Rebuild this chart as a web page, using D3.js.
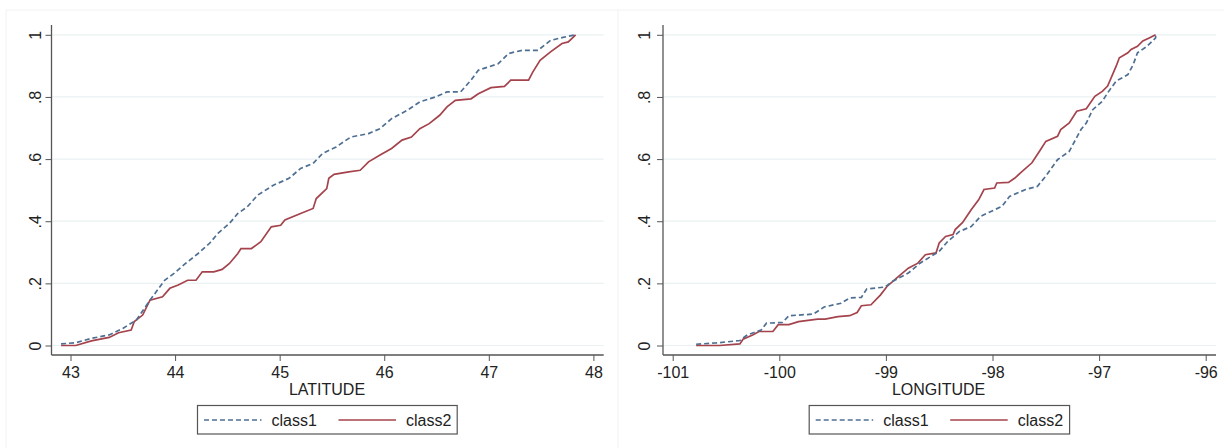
<!DOCTYPE html>
<html>
<head>
<meta charset="utf-8">
<script src="https://cdn.jsdelivr.net/npm/d3@7"></script>
<style>
  body { margin: 0; background: #fff; }
  svg { display: block; font-family: "Liberation Sans", Arial, sans-serif; }
</style>
</head>
<body>
<svg id="chart" width="1224" height="448"></svg>
<script>
const latClass1X = [42.91, 43.05, 43.2, 43.37, 43.5, 43.63, 43.75, 43.9, 43.99, 44.1, 44.22, 44.33, 44.41, 44.52, 44.6, 44.69, 44.79, 44.94, 45.09, 45.2, 45.32, 45.41, 45.54, 45.68, 45.85, 45.96, 46.07, 46.22, 46.34, 46.49, 46.6, 46.73, 46.83, 46.9, 47.09, 47.19, 47.32, 47.47, 47.59, 47.7, 47.83];
const latClass1Y = [0.005, 0.009, 0.023, 0.034, 0.055, 0.082, 0.141, 0.21, 0.232, 0.264, 0.296, 0.329, 0.361, 0.393, 0.425, 0.446, 0.484, 0.516, 0.538, 0.57, 0.586, 0.618, 0.639, 0.671, 0.682, 0.698, 0.73, 0.757, 0.784, 0.8, 0.816, 0.816, 0.854, 0.886, 0.907, 0.94, 0.95, 0.95, 0.982, 0.991, 1.0];

const latClass2X = [42.91, 43.05, 43.2, 43.37, 43.46, 43.58, 43.61, 43.69, 43.76, 43.88, 43.95, 44.03, 44.12, 44.2, 44.26, 44.37, 44.45, 44.52, 44.6, 44.63, 44.73, 44.82, 44.92, 45.01, 45.05, 45.2, 45.32, 45.35, 45.45, 45.47, 45.52, 45.66, 45.77, 45.85, 45.96, 46.07, 46.17, 46.26, 46.34, 46.43, 46.53, 46.6, 46.68, 46.83, 46.9, 47.02, 47.15, 47.21, 47.38, 47.42, 47.49, 47.59, 47.7, 47.76, 47.83];
const latClass2Y = [0, 0, 0.015, 0.026, 0.041, 0.05, 0.077, 0.098, 0.146, 0.157, 0.184, 0.195, 0.21, 0.21, 0.237, 0.237, 0.245, 0.264, 0.296, 0.312, 0.312, 0.334, 0.382, 0.387, 0.404, 0.425, 0.441, 0.473, 0.505, 0.538, 0.551, 0.559, 0.564, 0.591, 0.613, 0.634, 0.661, 0.671, 0.698, 0.714, 0.741, 0.768, 0.789, 0.794, 0.81, 0.83, 0.834, 0.854, 0.854, 0.88, 0.918, 0.945, 0.972, 0.977, 1.0];

const lonClass1X = [-100.78, -100.6, -100.37, -100.3, -100.17, -100.12, -99.97, -99.91, -99.68, -99.58, -99.42, -99.34, -99.23, -99.18, -99.01, -98.94, -98.79, -98.68, -98.5, -98.42, -98.31, -98.2, -98.11, -97.98, -97.91, -97.84, -97.69, -97.58, -97.5, -97.39, -97.28, -97.17, -97.12, -97.06, -96.97, -96.92, -96.84, -96.73, -96.68, -96.64, -96.55, -96.47, -96.47];
const lonClass1Y = [0.004, 0.008, 0.016, 0.034, 0.05, 0.072, 0.074, 0.096, 0.101, 0.124, 0.136, 0.153, 0.155, 0.182, 0.188, 0.206, 0.233, 0.265, 0.303, 0.335, 0.367, 0.383, 0.416, 0.437, 0.448, 0.48, 0.502, 0.512, 0.545, 0.598, 0.625, 0.695, 0.716, 0.759, 0.786, 0.813, 0.851, 0.872, 0.904, 0.942, 0.963, 0.99, 1.0];

const lonClass2X = [-100.78, -100.56, -100.37, -100.34, -100.25, -100.19, -100.06, -100.01, -99.91, -99.82, -99.64, -99.57, -99.45, -99.34, -99.27, -99.23, -99.14, -99.05, -98.99, -98.9, -98.79, -98.7, -98.63, -98.53, -98.5, -98.44, -98.37, -98.35, -98.28, -98.2, -98.13, -98.08, -97.98, -97.96, -97.85, -97.79, -97.74, -97.63, -97.55, -97.5, -97.39, -97.36, -97.28, -97.21, -97.12, -97.04, -96.97, -96.92, -96.84, -96.81, -96.73, -96.7, -96.64, -96.59, -96.53, -96.47];
const lonClass2Y = [0, 0, 0.005, 0.02, 0.034, 0.045, 0.045, 0.067, 0.067, 0.077, 0.085, 0.085, 0.093, 0.096, 0.106, 0.128, 0.131, 0.163, 0.19, 0.217, 0.249, 0.265, 0.292, 0.298, 0.33, 0.351, 0.357, 0.373, 0.396, 0.437, 0.469, 0.502, 0.507, 0.523, 0.525, 0.539, 0.555, 0.588, 0.63, 0.657, 0.673, 0.695, 0.716, 0.754, 0.762, 0.802, 0.818, 0.835, 0.899, 0.926, 0.942, 0.953, 0.963, 0.98, 0.99, 1.0];

const yTicks = [0, 0.2, 0.4, 0.6, 0.8, 1];
const yTickLabels = ["0", ".2", ".4", ".6", ".8", "1"];
const latTicks = [43, 44, 45, 46, 47, 48];
const lonTicks = [-101, -100, -99, -98, -97, -96];
const seriesNames = ["class1", "class2"];

const blue = "#4e6f92";
const red = "#a4434c";
const axisCol = "#555";
const gridCol = "#eaf1f3";

const svg = d3.select("#chart");

// faint frames around the two graphs
svg.append("line").attr("x1", 6).attr("x2", 6).attr("y1", 10).attr("y2", 448).attr("stroke", "#f2f2f2");
svg.append("line").attr("x1", 618).attr("x2", 618).attr("y1", 10).attr("y2", 448).attr("stroke", "#f2f2f2");
svg.append("line").attr("x1", 6).attr("x2", 1224).attr("y1", 10).attr("y2", 10).attr("stroke", "#f2f2f2");

function drawPanel(p) {
  const g = svg.append("g");

  const x = d3.scaleLinear().domain(p.xDomain).range(p.xRange);
  const y = d3.scaleLinear().domain([0, 1]).range([345.5, 34.8]);

  // grid
  g.selectAll(".grid").data(yTicks).join("line")
    .attr("x1", p.axisX).attr("x2", p.axisEnd)
    .attr("y1", d => y(d)).attr("y2", d => y(d))
    .attr("stroke", gridCol).attr("stroke-width", 1.2);

  // y axis
  const ya = g.append("g")
    .attr("transform", `translate(${p.axisX},0)`)
    .call(d3.axisLeft(y).tickValues(yTicks).tickSize(6).tickFormat((d, i) => yTickLabels[i]));
  ya.select(".domain").remove();
  ya.selectAll(".tick line").attr("stroke", axisCol);
  ya.selectAll(".tick text")
    .attr("fill", "#222").attr("font-size", 16)
    .attr("transform", `translate(${p.yLabelX - p.axisX},0) rotate(-90)`)
    .attr("x", 0).attr("dy", "0.35em").attr("text-anchor", "middle")
    .attr("font-family", "Liberation Sans, Arial, sans-serif");

  // x axis
  const xa = g.append("g")
    .attr("transform", "translate(0,355)")
    .call(d3.axisBottom(x).tickValues(p.xTicks).tickSize(6).tickFormat(d => String(d)));
  xa.select(".domain").remove();
  xa.selectAll(".tick line").attr("stroke", axisCol);
  xa.selectAll(".tick text")
    .attr("fill", "#222").attr("font-size", 16).attr("y", 12)
    .attr("font-family", "Liberation Sans, Arial, sans-serif");

  // axis lines
  g.append("line").attr("x1", p.axisX).attr("x2", p.axisX).attr("y1", 25).attr("y2", 355)
    .attr("stroke", axisCol).attr("stroke-width", 1.3);
  g.append("line").attr("x1", p.axisX).attr("x2", p.axisEnd).attr("y1", 355).attr("y2", 355)
    .attr("stroke", axisCol).attr("stroke-width", 1.3);

  g.append("text")
    .attr("x", p.titleX).attr("y", 395)
    .attr("text-anchor", "middle").attr("font-size", 16).attr("fill", "#222")
    .text(p.title);

  const line = d3.line().x(d => x(d[0])).y(d => y(d[1]));

  g.append("path")
    .datum(d3.zip(p.x2, p.y2))
    .attr("fill", "none").attr("stroke", red).attr("stroke-width", 1.7)
    .attr("d", line);
  g.append("path")
    .datum(d3.zip(p.x1, p.y1))
    .attr("fill", "none").attr("stroke", blue).attr("stroke-width", 1.7)
    .attr("stroke-dasharray", "5,3")
    .attr("d", line);

  // legend
  const lx = p.legendX;
  g.append("rect")
    .attr("x", lx).attr("y", 405.5).attr("width", p.legendW).attr("height", 28.5)
    .attr("fill", "#fff").attr("stroke", "#555").attr("stroke-width", 1.2);
  const items = [{ c: blue, dash: "5,3" }, { c: red, dash: null }];
  items.forEach((it, i) => {
    const off = i === 0 ? 6.5 : 141;
    g.append("line")
      .attr("x1", lx + off).attr("x2", lx + off + 57.5)
      .attr("y1", 420).attr("y2", 420)
      .attr("stroke", it.c).attr("stroke-width", 1.7)
      .attr("stroke-dasharray", it.dash);
    g.append("text")
      .attr("x", lx + off + 67.5).attr("y", 426)
      .attr("font-size", 16).attr("fill", "#222")
      .text(seriesNames[i]);
  });
}

drawPanel({
  xDomain: [43, 48], xRange: [70.5, 593.4], xTicks: latTicks,
  axisX: 51.5, axisEnd: 603.7, yLabelX: 35,
  title: "LATITUDE", titleX: 327,
  x1: latClass1X, y1: latClass1Y, x2: latClass2X, y2: latClass2Y,
  legendX: 197.5, legendW: 259.7
});

drawPanel({
  xDomain: [-101, -96], xRange: [672.7, 1205.7], xTicks: lonTicks,
  axisX: 663, axisEnd: 1216, yLabelX: 644.5,
  title: "LONGITUDE", titleX: 938.6,
  x1: lonClass1X, y1: lonClass1Y, x2: lonClass2X, y2: lonClass2Y,
  legendX: 809.2, legendW: 260.4
});
</script>
</body>
</html>
